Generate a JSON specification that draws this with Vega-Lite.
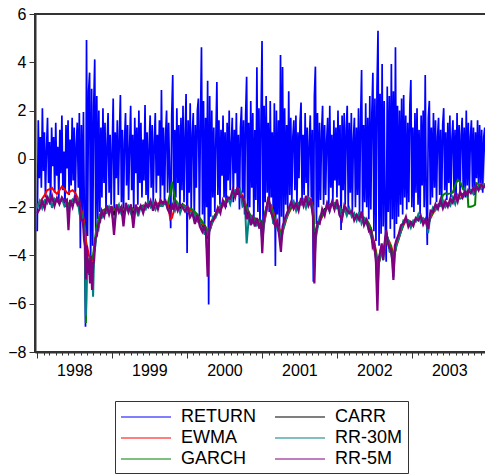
{
"$schema": "https://vega.github.io/schema/vega-lite/v6.json",
"width": 456, "height": 338,
"autosize": {"type": "none"},
"padding": {"left": 35, "top": 14, "right": 0, "bottom": 122},
"config": {
 "font": "Liberation Sans",
 "view": {"stroke": "#333", "strokeWidth": 2},
 "axis": {"grid": false, "domainColor": "#333", "domainWidth": 2, "tickColor": "#333", "labelColor": "#000", "labelFontSize": 16},
 "axisY": {"tickSize": 6, "labelPadding": 3},
 "legend": {"labelFontSize": 18, "labelColor": "#000"}
},
"datasets": {
"ret": [
{"t":0,"r":-3.0},{"t":5,"r":1.6},{"t":10,"r":-0.8},{"t":15,"r":0.9},{"t":20,"r":-1.2},{"t":25,"r":2.1},{"t":30,"r":-0.5},{"t":35,"r":1.1},{"t":40,"r":-1.6},{"t":45,"r":0.4},{"t":50,"r":1.7},{"t":55,"r":-1.0},{"t":60,"r":0.7},{"t":65,"r":-1.9},{"t":70,"r":1.3},{"t":75,"r":-0.3},{"t":80,"r":0.9},{"t":85,"r":-1.4},{"t":90,"r":1.5},{"t":95,"r":-0.7},
{"t":100,"r":0.5},{"t":105,"r":-1.7},{"t":110,"r":1.2},{"t":115,"r":-0.6},{"t":120,"r":1.8},{"t":125,"r":-1.3},{"t":130,"r":0.3},{"t":135,"r":-2.0},{"t":140,"r":1.4},{"t":145,"r":-0.4},{"t":150,"r":1.6},{"t":155,"r":-1.5},{"t":160,"r":0.8},{"t":165,"r":-1.1},{"t":170,"r":1.7},{"t":175,"r":-0.9},{"t":180,"r":1.3},{"t":185,"r":-1.8},{"t":190,"r":0.6},{"t":195,"r":1.5},
{"t":200,"r":-1.2},{"t":205,"r":1.9},{"t":210,"r":-3.7},{"t":215,"r":1.4},{"t":220,"r":-2.3},{"t":225,"r":1.94},{"t":230,"r":-2.8},{"t":235,"r":-6.95},{"t":240,"r":4.92},{"t":245,"r":-3.2},{"t":250,"r":2.8},{"t":255,"r":3.57},{"t":260,"r":-4.5},{"t":265,"r":2.9},{"t":270,"r":-3.6},{"t":275,"r":2.2},{"t":280,"r":4.12},{"t":285,"r":-3.0},{"t":290,"r":2.6},{"t":295,"r":-2.5},
{"t":300,"r":2.0},{"t":305,"r":-2.2},{"t":310,"r":1.3},{"t":315,"r":-1.6},{"t":320,"r":2.1},{"t":325,"r":-1.0},{"t":330,"r":1.5},{"t":335,"r":-2.1},{"t":340,"r":0.6},{"t":345,"r":1.9},{"t":350,"r":-1.4},{"t":355,"r":1.0},{"t":360,"r":-1.9},{"t":365,"r":0.4},{"t":370,"r":2.5},{"t":375,"r":-2.3},{"t":380,"r":1.1},{"t":385,"r":-0.8},{"t":390,"r":1.6},{"t":395,"r":-1.5},
{"t":400,"r":0.9},{"t":405,"r":2.64},{"t":410,"r":-1.8},{"t":415,"r":1.2},{"t":420,"r":-2.4},{"t":425,"r":0.7},{"t":430,"r":1.9},{"t":435,"r":-1.1},{"t":440,"r":1.4},{"t":445,"r":-1.7},{"t":450,"r":0.5},{"t":455,"r":2.2},{"t":460,"r":-1.3},{"t":465,"r":1.0},{"t":470,"r":-2.2},{"t":475,"r":1.7},{"t":480,"r":-0.6},{"t":485,"r":1.3},{"t":490,"r":-1.9},{"t":495,"r":2.0},
{"t":500,"r":-1.0},{"t":505,"r":1.5},{"t":510,"r":-1.6},{"t":515,"r":0.8},{"t":520,"r":-0.9},{"t":525,"r":2.23},{"t":530,"r":-1.5},{"t":535,"r":1.1},{"t":540,"r":-2.0},{"t":545,"r":0.6},{"t":550,"r":1.8},{"t":555,"r":-1.2},{"t":560,"r":1.4},{"t":565,"r":-1.8},{"t":570,"r":0.7},{"t":575,"r":1.9},{"t":580,"r":-1.4},{"t":585,"r":1.0},{"t":590,"r":-0.7},{"t":595,"r":1.6},
{"t":600,"r":-1.7},{"t":605,"r":2.85},{"t":610,"r":-1.1},{"t":615,"r":1.3},{"t":620,"r":-1.9},{"t":625,"r":0.9},{"t":630,"r":2.0},{"t":635,"r":-1.4},{"t":640,"r":1.5},{"t":645,"r":-0.8},{"t":650,"r":-2.87},{"t":655,"r":1.8},{"t":660,"r":3.47},{"t":665,"r":-2.1},{"t":670,"r":1.2},{"t":675,"r":-1.6},{"t":680,"r":2.1},{"t":685,"r":-1.0},{"t":690,"r":1.4},{"t":695,"r":-2.0},
{"t":700,"r":1.7},{"t":705,"r":-1.3},{"t":710,"r":2.2},{"t":715,"r":-1.8},{"t":720,"r":0.9},{"t":725,"r":2.69},{"t":730,"r":-3.9},{"t":735,"r":1.6},{"t":740,"r":-1.4},{"t":745,"r":2.3},{"t":750,"r":-2.2},{"t":755,"r":1.0},{"t":760,"r":1.9},{"t":765,"r":-2.5},{"t":770,"r":1.4},{"t":775,"r":-1.2},{"t":780,"r":2.0},{"t":785,"r":2.5},{"t":790,"r":-2.6},{"t":795,"r":1.5},
{"t":800,"r":4.62},{"t":805,"r":-2.3},{"t":810,"r":2.4},{"t":815,"r":-3.0},{"t":820,"r":1.7},{"t":825,"r":-2.0},{"t":830,"r":3.24},{"t":835,"r":-6.03},{"t":840,"r":2.6},{"t":845,"r":-2.4},{"t":850,"r":2.0},{"t":855,"r":-1.6},{"t":860,"r":1.3},{"t":865,"r":-2.2},{"t":870,"r":0.8},{"t":875,"r":3.18},{"t":880,"r":-1.5},{"t":885,"r":1.6},{"t":890,"r":-1.9},{"t":895,"r":1.2},
{"t":900,"r":-0.7},{"t":905,"r":1.8},{"t":910,"r":-1.6},{"t":915,"r":1.1},{"t":920,"r":-2.0},{"t":925,"r":1.5},{"t":930,"r":-0.9},{"t":935,"r":2.0},{"t":940,"r":-1.3},{"t":945,"r":0.6},{"t":950,"r":1.7},{"t":955,"r":-1.8},{"t":960,"r":1.2},{"t":965,"r":-0.6},{"t":970,"r":1.9},{"t":975,"r":-1.5},{"t":980,"r":1.0},{"t":985,"r":-2.1},{"t":990,"r":1.3},{"t":995,"r":2.16},
{"t":1000,"r":-1.4},{"t":1005,"r":1.6},{"t":1010,"r":-2.3},{"t":1015,"r":1.8},{"t":1020,"r":3.4},{"t":1025,"r":-2.5},{"t":1030,"r":1.5},{"t":1035,"r":-2.0},{"t":1040,"r":2.4},{"t":1045,"r":-1.2},{"t":1050,"r":1.9},{"t":1055,"r":-2.6},{"t":1060,"r":1.2},{"t":1065,"r":-1.7},{"t":1070,"r":3.79},{"t":1075,"r":-2.2},{"t":1080,"r":2.1},{"t":1085,"r":-2.9},{"t":1090,"r":1.7},{"t":1095,"r":4.88},
{"t":1100,"r":-3.0},{"t":1105,"r":2.2},{"t":1110,"r":-1.8},{"t":1115,"r":2.6},{"t":1120,"r":-1.4},{"t":1125,"r":1.5},{"t":1130,"r":-2.2},{"t":1135,"r":2.4},{"t":1140,"r":-1.6},{"t":1145,"r":1.1},{"t":1150,"r":-2.7},{"t":1155,"r":2.3},{"t":1160,"r":-4.44},{"t":1165,"r":2.0},{"t":1170,"r":-2.3},{"t":1175,"r":1.6},{"t":1180,"r":-3.2},{"t":1185,"r":4.3},{"t":1190,"r":-2.4},{"t":1195,"r":3.8},
{"t":1200,"r":-2.6},{"t":1205,"r":2.1},{"t":1210,"r":-1.9},{"t":1215,"r":1.4},{"t":1220,"r":-2.1},{"t":1225,"r":2.8},{"t":1230,"r":-1.5},{"t":1235,"r":1.7},{"t":1240,"r":-1.8},{"t":1245,"r":0.9},{"t":1250,"r":1.6},{"t":1255,"r":-1.3},{"t":1260,"r":1.8},{"t":1265,"r":-2.0},{"t":1270,"r":1.1},{"t":1275,"r":-0.8},{"t":1280,"r":1.5},{"t":1285,"r":2.33},{"t":1290,"r":-1.7},{"t":1295,"r":1.0},
{"t":1300,"r":-1.5},{"t":1305,"r":1.9},{"t":1310,"r":-1.0},{"t":1315,"r":1.3},{"t":1320,"r":-1.9},{"t":1325,"r":0.7},{"t":1330,"r":1.8},{"t":1335,"r":-1.6},{"t":1340,"r":1.2},{"t":1345,"r":-5.09},{"t":1350,"r":2.6},{"t":1355,"r":3.82},{"t":1360,"r":-2.7},{"t":1365,"r":1.9},{"t":1370,"r":-2.0},{"t":1375,"r":1.5},{"t":1380,"r":-1.7},{"t":1385,"r":1.1},{"t":1390,"r":2.2},{"t":1395,"r":-1.9},
{"t":1400,"r":1.4},{"t":1405,"r":-1.5},{"t":1410,"r":0.8},{"t":1415,"r":1.7},{"t":1420,"r":-2.0},{"t":1425,"r":2.2},{"t":1430,"r":-1.2},{"t":1435,"r":1.0},{"t":1440,"r":-1.8},{"t":1445,"r":1.6},{"t":1450,"r":-0.9},{"t":1455,"r":1.3},{"t":1460,"r":-1.6},{"t":1465,"r":2.0},{"t":1470,"r":-1.1},{"t":1475,"r":1.4},{"t":1480,"r":-2.95},{"t":1485,"r":1.8},{"t":1490,"r":-1.3},{"t":1495,"r":1.9},
{"t":1500,"r":-1.9},{"t":1505,"r":1.2},{"t":1510,"r":2.2},{"t":1515,"r":-2.1},{"t":1520,"r":1.5},{"t":1525,"r":-1.4},{"t":1530,"r":1.9},{"t":1535,"r":-2.2},{"t":1540,"r":0.8},{"t":1545,"r":1.7},{"t":1550,"r":-2.0},{"t":1555,"r":1.3},{"t":1560,"r":-1.5},{"t":1565,"r":2.1},{"t":1570,"r":-2.3},{"t":1575,"r":1.6},{"t":1580,"r":3.68},{"t":1585,"r":-2.4},{"t":1590,"r":1.4},{"t":1595,"r":-1.8},
{"t":1600,"r":2.3},{"t":1605,"r":-2.0},{"t":1610,"r":1.7},{"t":1615,"r":-2.5},{"t":1620,"r":2.6},{"t":1625,"r":-2.1},{"t":1630,"r":1.9},{"t":1635,"r":3.57},{"t":1640,"r":-3.0},{"t":1645,"r":2.5},{"t":1650,"r":-3.4},{"t":1655,"r":2.9},{"t":1660,"r":5.31},{"t":1665,"r":-3.6},{"t":1670,"r":2.7},{"t":1675,"r":-3.1},{"t":1680,"r":3.93},{"t":1685,"r":-2.8},{"t":1690,"r":2.4},{"t":1695,"r":-2.6},
{"t":1700,"r":-4.26},{"t":1705,"r":3.0},{"t":1710,"r":-2.2},{"t":1715,"r":2.6},{"t":1720,"r":-2.9},{"t":1725,"r":3.93},{"t":1730,"r":-2.5},{"t":1735,"r":2.8},{"t":1740,"r":-3.3},{"t":1745,"r":4.62},{"t":1750,"r":-2.7},{"t":1755,"r":2.2},{"t":1760,"r":-2.4},{"t":1765,"r":2.0},{"t":1770,"r":-1.9},{"t":1775,"r":2.5},{"t":1780,"r":-2.3},{"t":1785,"r":2.64},{"t":1790,"r":-1.6},{"t":1795,"r":1.8},
{"t":1800,"r":-2.1},{"t":1805,"r":1.5},{"t":1810,"r":-1.8},{"t":1815,"r":2.2},{"t":1820,"r":3.27},{"t":1825,"r":-2.0},{"t":1830,"r":1.3},{"t":1835,"r":-2.2},{"t":1840,"r":1.9},{"t":1845,"r":-1.4},{"t":1850,"r":2.1},{"t":1855,"r":-1.9},{"t":1860,"r":1.2},{"t":1865,"r":-2.3},{"t":1870,"r":1.8},{"t":1875,"r":-1.1},{"t":1880,"r":2.0},{"t":1885,"r":-2.0},{"t":1890,"r":3.47},{"t":1895,"r":-1.6},
{"t":1900,"r":-3.57},{"t":1905,"r":1.7},{"t":1910,"r":2.4},{"t":1915,"r":-1.9},{"t":1920,"r":1.3},{"t":1925,"r":-1.6},{"t":1930,"r":1.9},{"t":1935,"r":-1.2},{"t":1940,"r":1.6},{"t":1945,"r":-1.8},{"t":1950,"r":0.9},{"t":1955,"r":1.7},{"t":1960,"r":-1.5},{"t":1965,"r":1.2},{"t":1970,"r":-1.9},{"t":1975,"r":1.4},{"t":1980,"r":2.1},{"t":1985,"r":-1.3},{"t":1990,"r":1.1},{"t":1995,"r":-1.7},
{"t":2000,"r":1.5},{"t":2005,"r":-1.0},{"t":2010,"r":1.8},{"t":2015,"r":-1.6},{"t":2020,"r":0.8},{"t":2025,"r":1.6},{"t":2030,"r":-1.4},{"t":2035,"r":1.2},{"t":2040,"r":-1.7},{"t":2045,"r":1.9},{"t":2050,"r":-0.9},{"t":2055,"r":1.4},{"t":2060,"r":-1.5},{"t":2065,"r":1.0},{"t":2070,"r":1.7},{"t":2075,"r":-1.3},{"t":2080,"r":1.3},{"t":2085,"r":-1.6},{"t":2090,"r":2.0},{"t":2095,"r":-1.1},
{"t":2100,"r":1.5},{"t":2105,"r":-1.4},{"t":2110,"r":0.9},{"t":2115,"r":1.6},{"t":2120,"r":-1.2},{"t":2125,"r":1.3},{"t":2130,"r":-1.5},{"t":2135,"r":1.1},{"t":2140,"r":-0.8},{"t":2145,"r":1.6},{"t":2150,"r":-1.3},{"t":2155,"r":1.4},{"t":2160,"r":-1.0},{"t":2165,"r":1.2},{"t":2170,"r":-1.4},{"t":2175,"r":0.9},{"t":2180,"r":1.3},{"t":2185,"r":-0.9},{"t":2190,"r":1.2}
],
"vol": [
{"t":0,"c":-1.85,"e":-1.9,"g":-1.95,"m":-2.05,"p":-2.25},
{"t":12,"c":-1.93,"e":-1.8,"g":-1.85,"m":-1.75,"p":-2.07},
{"t":24,"c":-1.78,"e":-1.65,"g":-1.8,"m":-2.05,"p":-1.75},
{"t":36,"c":-1.79,"e":-1.5,"g":-1.75,"m":-1.73,"p":-2.05},
{"t":48,"c":-1.68,"e":-1.3,"g":-1.7,"m":-1.85,"p":-1.57},
{"t":60,"c":-1.72,"e":-1.25,"g":-1.7,"m":-1.55,"p":-1.8},
{"t":72,"c":-1.7,"e":-1.2,"g":-1.72,"m":-2.03,"p":-1.53},
{"t":84,"c":-1.78,"e":-1.35,"g":-1.7,"m":-1.65,"p":-1.95},
{"t":96,"c":-1.68,"e":-1.45,"g":-1.68,"m":-1.75,"p":-1.62},
{"t":108,"c":-1.74,"e":-1.3,"g":-1.7,"m":-1.85,"p":-1.88},
{"t":120,"c":-1.73,"e":-1.15,"g":-1.72,"m":-1.65,"p":-1.6},
{"t":132,"c":-1.72,"e":-1.25,"g":-1.7,"m":-1.95,"p":-1.75},
{"t":144,"c":-1.75,"e":-1.4,"g":-1.75,"m":-1.78,"p":-1.68},
{"t":152,"c":-2.1,"e":-1.45,"g":-1.9,"m":-2.4,"p":-2.95},
{"t":160,"c":-1.8,"e":-1.35,"g":-1.8,"m":-1.85,"p":-1.7},
{"t":172,"c":-1.72,"e":-1.3,"g":-1.75,"m":-1.68,"p":-2.0},
{"t":184,"c":-1.7,"e":-1.4,"g":-1.7,"m":-1.8,"p":-1.52},
{"t":196,"c":-1.85,"e":-1.6,"g":-1.8,"m":-1.65,"p":-1.9},
{"t":206,"c":-1.98,"e":-1.85,"g":-1.95,"m":-2.28,"p":-1.78},
{"t":214,"c":-2.25,"e":-2.1,"g":-2.2,"m":-2.25,"p":-2.55},
{"t":222,"c":-2.55,"e":-2.3,"g":-2.5,"m":-2.7,"p":-2.52},
{"t":228,"c":-2.9,"e":-2.6,"g":-2.8,"m":-2.85,"p":-3.36},
{"t":233,"c":-3.3,"e":-2.9,"g":-3.2,"m":-3.5,"p":-3.6},
{"t":237,"c":-4.5,"e":-3.4,"g":-6.8,"m":-6.5,"p":-5.0},
{"t":242,"c":-4.2,"e":-3.6,"g":-4.6,"m":-4.0,"p":-3.6},
{"t":247,"c":-4.3,"e":-3.8,"g":-4.2,"m":-4.5,"p":-4.73},
{"t":252,"c":-4.5,"e":-4.0,"g":-4.3,"m":-4.8,"p":-4.2},
{"t":257,"c":-4.1,"e":-4.1,"g":-4.0,"m":-4.4,"p":-5.16},
{"t":262,"c":-4.6,"e":-4.2,"g":-4.2,"m":-5.0,"p":-4.0},
{"t":267,"c":-4.3,"e":-4.2,"g":-4.1,"m":-4.5,"p":-5.43},
{"t":272,"c":-4.6,"e":-4.1,"g":-4.0,"m":-5.71,"p":-4.4},
{"t":277,"c":-3.8,"e":-3.8,"g":-3.6,"m":-3.9,"p":-4.2},
{"t":283,"c":-3.4,"e":-3.4,"g":-3.2,"m":-3.6,"p":-3.3},
{"t":290,"c":-3.0,"e":-3.0,"g":-2.8,"m":-2.9,"p":-3.2},
{"t":298,"c":-2.8,"e":-2.6,"g":-2.5,"m":-2.95,"p":-2.7},
{"t":306,"c":-2.5,"e":-2.45,"g":-2.3,"m":-2.45,"p":-2.6},
{"t":314,"c":-2.3,"e":-2.3,"g":-2.15,"m":-2.45,"p":-2.15},
{"t":326,"c":-2.22,"e":-2.2,"g":-2.1,"m":-2.2,"p":-2.4},
{"t":338,"c":-2.08,"e":-2.1,"g":-2.05,"m":-2.25,"p":-1.92},
{"t":350,"c":-2.02,"e":-2.05,"g":-2.0,"m":-1.98,"p":-2.3},
{"t":362,"c":-2.1,"e":-2.0,"g":-2.02,"m":-2.2,"p":-1.95},
{"t":374,"c":-2.3,"e":-2.1,"g":-2.1,"m":-2.7,"p":-3.15},
{"t":386,"c":-2.05,"e":-2.1,"g":-2.05,"m":-2.15,"p":-1.88},
{"t":398,"c":-1.98,"e":-2.0,"g":-2.0,"m":-1.9,"p":-2.22},
{"t":410,"c":-2.08,"e":-2.0,"g":-2.02,"m":-2.3,"p":-2.0},
{"t":420,"c":-2.25,"e":-2.1,"g":-2.1,"m":-2.4,"p":-2.8},
{"t":432,"c":-2.02,"e":-2.05,"g":-2.05,"m":-2.1,"p":-1.82},
{"t":444,"c":-2.12,"e":-2.05,"g":-2.08,"m":-1.95,"p":-2.2},
{"t":456,"c":-1.98,"e":-2.0,"g":-2.02,"m":-2.25,"p":-1.88},
{"t":468,"c":-2.3,"e":-2.1,"g":-2.12,"m":-2.5,"p":-2.86},
{"t":480,"c":-2.05,"e":-2.05,"g":-2.05,"m":-2.0,"p":-1.9},
{"t":492,"c":-2.1,"e":-2.05,"g":-2.08,"m":-2.38,"p":-2.2},
{"t":504,"c":-2.0,"e":-2.0,"g":-2.02,"m":-1.95,"p":-1.95},
{"t":516,"c":-1.93,"e":-1.95,"g":-1.98,"m":-2.05,"p":-2.25},
{"t":528,"c":-2.02,"e":-1.95,"g":-1.98,"m":-2.1,"p":-1.85},
{"t":540,"c":-1.92,"e":-1.9,"g":-1.95,"m":-1.75,"p":-2.0},
{"t":552,"c":-1.97,"e":-1.9,"g":-1.93,"m":-2.0,"p":-1.73},
{"t":564,"c":-1.88,"e":-1.88,"g":-1.92,"m":-1.8,"p":-2.15},
{"t":576,"c":-1.83,"e":-1.85,"g":-1.9,"m":-2.1,"p":-1.77},
{"t":588,"c":-1.92,"e":-1.85,"g":-1.9,"m":-1.88,"p":-2.08},
{"t":600,"c":-1.82,"e":-1.82,"g":-1.88,"m":-1.95,"p":-1.7},
{"t":612,"c":-1.78,"e":-1.8,"g":-1.85,"m":-1.95,"p":-1.85},
{"t":624,"c":-1.85,"e":-1.8,"g":-1.85,"m":-1.75,"p":-1.73},
{"t":636,"c":-1.84,"e":-1.82,"g":-1.85,"m":-2.08,"p":-2.1},
{"t":648,"c":-2.1,"e":-2.5,"g":-1.4,"m":-2.2,"p":-2.3},
{"t":656,"c":-1.95,"e":-2.45,"g":-0.95,"m":-1.95,"p":-1.85},
{"t":664,"c":-1.9,"e":-2.2,"g":-1.3,"m":-1.8,"p":-2.12},
{"t":672,"c":-1.87,"e":-2.0,"g":-1.7,"m":-2.13,"p":-1.83},
{"t":684,"c":-1.92,"e":-1.95,"g":-1.85,"m":-1.85,"p":-2.15},
{"t":696,"c":-2.04,"e":-1.95,"g":-1.95,"m":-2.25,"p":-1.88},
{"t":708,"c":-1.88,"e":-1.9,"g":-1.9,"m":-1.95,"p":-2.0},
{"t":720,"c":-2.0,"e":-1.95,"g":-1.95,"m":-1.98,"p":-2.18},
{"t":732,"c":-2.15,"e":-2.0,"g":-2.1,"m":-2.2,"p":-1.98},
{"t":744,"c":-2.18,"e":-2.1,"g":-2.05,"m":-2.2,"p":-2.42},
{"t":756,"c":-2.28,"e":-2.2,"g":-2.1,"m":-2.2,"p":-2.25},
{"t":768,"c":-2.35,"e":-2.3,"g":-2.2,"m":-2.35,"p":-2.7},
{"t":780,"c":-2.45,"e":-2.4,"g":-2.3,"m":-2.6,"p":-2.32},
{"t":792,"c":-2.65,"e":-2.5,"g":-2.45,"m":-2.65,"p":-2.8},
{"t":804,"c":-2.8,"e":-2.65,"g":-2.6,"m":-2.9,"p":-3.02},
{"t":814,"c":-2.88,"e":-2.8,"g":-2.75,"m":-3.1,"p":-2.75},
{"t":822,"c":-2.95,"e":-2.85,"g":-2.85,"m":-3.05,"p":-3.1},
{"t":830,"c":-3.3,"e":-3.0,"g":-3.1,"m":-4.2,"p":-4.88},
{"t":838,"c":-2.95,"e":-3.0,"g":-2.9,"m":-3.0,"p":-2.95},
{"t":846,"c":-2.7,"e":-2.8,"g":-2.7,"m":-2.85,"p":-2.6},
{"t":856,"c":-2.48,"e":-2.6,"g":-2.5,"m":-2.4,"p":-2.55},
{"t":868,"c":-2.3,"e":-2.4,"g":-2.3,"m":-2.45,"p":-2.35},
{"t":880,"c":-2.1,"e":-2.2,"g":-2.1,"m":-2.2,"p":-2.02},
{"t":892,"c":-2.02,"e":-2.1,"g":-1.95,"m":-1.98,"p":-2.25},
{"t":904,"c":-1.88,"e":-1.95,"g":-1.85,"m":-1.8,"p":-1.72},
{"t":916,"c":-1.82,"e":-1.85,"g":-1.75,"m":-1.85,"p":-1.98},
{"t":928,"c":-1.72,"e":-1.75,"g":-1.7,"m":-1.6,"p":-1.6},
{"t":940,"c":-1.6,"e":-1.62,"g":-1.65,"m":-1.88,"p":-1.65},
{"t":952,"c":-1.52,"e":-1.5,"g":-1.55,"m":-1.45,"p":-1.28},
{"t":964,"c":-1.35,"e":-1.35,"g":-1.45,"m":-1.3,"p":-1.6},
{"t":976,"c":-1.25,"e":-1.22,"g":-1.35,"m":-1.35,"p":-1.17},
{"t":988,"c":-1.42,"e":-1.3,"g":-1.4,"m":-1.25,"p":-1.58},
{"t":1000,"c":-1.68,"e":-1.55,"g":-1.6,"m":-1.98,"p":-1.55},
{"t":1012,"c":-1.97,"e":-1.8,"g":-1.85,"m":-1.9,"p":-2.0},
{"t":1020,"c":-2.2,"e":-2.0,"g":-2.05,"m":-3.5,"p":-2.5},
{"t":1030,"c":-2.4,"e":-2.25,"g":-2.2,"m":-2.5,"p":-2.28},
{"t":1040,"c":-2.48,"e":-2.4,"g":-2.35,"m":-2.4,"p":-2.75},
{"t":1050,"c":-2.52,"e":-2.45,"g":-2.4,"m":-2.65,"p":-2.45},
{"t":1060,"c":-2.6,"e":-2.5,"g":-2.45,"m":-2.55,"p":-2.8},
{"t":1070,"c":-2.62,"e":-2.55,"g":-2.5,"m":-2.75,"p":-2.45},
{"t":1080,"c":-2.72,"e":-2.6,"g":-2.55,"m":-2.65,"p":-2.8},
{"t":1090,"c":-2.8,"e":-2.7,"g":-2.6,"m":-2.9,"p":-2.65},
{"t":1096,"c":-3.1,"e":-2.85,"g":-2.8,"m":-3.4,"p":-3.91},
{"t":1104,"c":-2.6,"e":-2.7,"g":-2.5,"m":-2.8,"p":-2.5},
{"t":1114,"c":-2.1,"e":-2.3,"g":-2.1,"m":-2.2,"p":-2.2},
{"t":1126,"c":-1.7,"e":-1.8,"g":-1.75,"m":-1.75,"p":-1.57},
{"t":1138,"c":-2.08,"e":-1.9,"g":-1.95,"m":-2.1,"p":-2.2},
{"t":1150,"c":-2.5,"e":-2.2,"g":-2.3,"m":-2.65,"p":-2.45},
{"t":1160,"c":-2.78,"e":-2.5,"g":-2.6,"m":-2.78,"p":-2.81},
{"t":1170,"c":-2.82,"e":-2.7,"g":-2.75,"m":-2.9,"p":-2.6},
{"t":1180,"c":-3.1,"e":-2.9,"g":-2.95,"m":-3.05,"p":-3.3},
{"t":1187,"c":-3.35,"e":-3.1,"g":-3.1,"m":-3.5,"p":-3.85},
{"t":1195,"c":-2.95,"e":-3.0,"g":-2.95,"m":-3.1,"p":-2.8},
{"t":1205,"c":-2.62,"e":-2.75,"g":-2.7,"m":-2.6,"p":-2.5},
{"t":1215,"c":-2.3,"e":-2.45,"g":-2.4,"m":-2.45,"p":-2.3},
{"t":1225,"c":-2.12,"e":-2.25,"g":-2.2,"m":-2.08,"p":-2.05},
{"t":1237,"c":-1.92,"e":-2.05,"g":-2.0,"m":-1.9,"p":-1.78},
{"t":1249,"c":-1.88,"e":-1.95,"g":-1.92,"m":-1.75,"p":-2.07},
{"t":1261,"c":-1.88,"e":-1.9,"g":-1.9,"m":-2.15,"p":-1.85},
{"t":1273,"c":-1.89,"e":-1.88,"g":-1.88,"m":-1.83,"p":-2.15},
{"t":1285,"c":-1.73,"e":-1.8,"g":-1.85,"m":-1.9,"p":-1.62},
{"t":1297,"c":-1.87,"e":-1.8,"g":-1.85,"m":-1.7,"p":-1.95},
{"t":1309,"c":-1.73,"e":-1.65,"g":-1.8,"m":-2.03,"p":-1.53},
{"t":1321,"c":-1.72,"e":-1.6,"g":-1.75,"m":-1.65,"p":-1.95},
{"t":1333,"c":-1.78,"e":-1.7,"g":-1.78,"m":-1.85,"p":-1.72},
{"t":1343,"c":-2.2,"e":-2.0,"g":-2.0,"m":-2.3,"p":-2.4},
{"t":1350,"c":-3.3,"e":-2.9,"g":-3.0,"m":-4.3,"p":-5.16},
{"t":1357,"c":-3.1,"e":-3.0,"g":-3.0,"m":-3.3,"p":-3.1},
{"t":1366,"c":-2.72,"e":-2.8,"g":-2.75,"m":-2.85,"p":-2.62},
{"t":1376,"c":-2.5,"e":-2.6,"g":-2.55,"m":-2.4,"p":-2.68},
{"t":1388,"c":-2.28,"e":-2.4,"g":-2.35,"m":-2.2,"p":-2.08},
{"t":1400,"c":-2.08,"e":-2.2,"g":-2.15,"m":-2.25,"p":-2.35},
{"t":1412,"c":-2.02,"e":-2.05,"g":-2.05,"m":-1.85,"p":-1.85},
{"t":1424,"c":-1.95,"e":-1.95,"g":-1.95,"m":-2.18,"p":-2.15},
{"t":1436,"c":-1.83,"e":-1.88,"g":-1.88,"m":-1.8,"p":-1.78},
{"t":1448,"c":-1.84,"e":-1.82,"g":-1.85,"m":-1.85,"p":-2.1},
{"t":1460,"c":-1.85,"e":-1.85,"g":-1.88,"m":-2.05,"p":-1.68},
{"t":1472,"c":-2.1,"e":-2.0,"g":-2.0,"m":-2.0,"p":-2.32},
{"t":1484,"c":-2.28,"e":-2.15,"g":-2.15,"m":-2.45,"p":-2.53},
{"t":1496,"c":-2.08,"e":-2.1,"g":-2.1,"m":-2.05,"p":-1.92},
{"t":1508,"c":-2.18,"e":-2.15,"g":-2.15,"m":-2.35,"p":-2.1},
{"t":1520,"c":-2.22,"e":-2.2,"g":-2.18,"m":-2.05,"p":-2.25},
{"t":1532,"c":-2.25,"e":-2.25,"g":-2.25,"m":-2.4,"p":-2.15},
{"t":1544,"c":-2.32,"e":-2.3,"g":-2.3,"m":-2.25,"p":-2.55},
{"t":1556,"c":-2.38,"e":-2.35,"g":-2.35,"m":-2.55,"p":-2.32},
{"t":1568,"c":-2.35,"e":-2.35,"g":-2.35,"m":-2.2,"p":-2.53},
{"t":1580,"c":-2.42,"e":-2.38,"g":-2.38,"m":-2.68,"p":-2.18},
{"t":1592,"c":-2.5,"e":-2.45,"g":-2.45,"m":-2.45,"p":-2.75},
{"t":1604,"c":-2.58,"e":-2.55,"g":-2.5,"m":-2.65,"p":-2.52},
{"t":1616,"c":-2.8,"e":-2.7,"g":-2.7,"m":-2.95,"p":-3.0},
{"t":1626,"c":-3.0,"e":-2.9,"g":-2.9,"m":-3.2,"p":-2.95},
{"t":1634,"c":-3.45,"e":-3.2,"g":-3.3,"m":-3.45,"p":-3.64},
{"t":1642,"c":-3.7,"e":-3.5,"g":-3.6,"m":-3.75,"p":-3.5},
{"t":1650,"c":-4.0,"e":-3.8,"g":-3.9,"m":-4.1,"p":-4.3},
{"t":1657,"c":-4.7,"e":-4.2,"g":-4.4,"m":-5.6,"p":-6.29},
{"t":1664,"c":-4.35,"e":-4.3,"g":-4.3,"m":-4.4,"p":-4.1},
{"t":1671,"c":-3.95,"e":-4.1,"g":-4.0,"m":-3.8,"p":-3.85},
{"t":1678,"c":-3.7,"e":-3.85,"g":-3.8,"m":-3.8,"p":-3.5},
{"t":1685,"c":-4.0,"e":-3.8,"g":-3.9,"m":-4.2,"p":-4.19},
{"t":1692,"c":-3.6,"e":-3.7,"g":-3.7,"m":-3.7,"p":-3.5},
{"t":1700,"c":-3.05,"e":-3.4,"g":-3.3,"m":-3.1,"p":-2.95},
{"t":1708,"c":-3.4,"e":-3.3,"g":-3.35,"m":-3.3,"p":-3.5},
{"t":1716,"c":-3.6,"e":-3.45,"g":-3.5,"m":-3.85,"p":-3.7},
{"t":1724,"c":-3.8,"e":-3.6,"g":-3.7,"m":-3.9,"p":-3.75},
{"t":1730,"c":-4.1,"e":-3.8,"g":-3.9,"m":-4.2,"p":-4.3},
{"t":1735,"c":-4.4,"e":-4.0,"g":-4.1,"m":-4.9,"p":-5.02},
{"t":1742,"c":-3.75,"e":-3.9,"g":-3.9,"m":-3.9,"p":-3.6},
{"t":1750,"c":-3.42,"e":-3.6,"g":-3.55,"m":-3.5,"p":-3.36},
{"t":1760,"c":-3.2,"e":-3.35,"g":-3.3,"m":-3.3,"p":-3.15},
{"t":1772,"c":-2.9,"e":-3.0,"g":-3.0,"m":-3.0,"p":-2.75},
{"t":1784,"c":-2.6,"e":-2.75,"g":-2.7,"m":-2.55,"p":-2.68},
{"t":1796,"c":-2.5,"e":-2.55,"g":-2.55,"m":-2.6,"p":-2.4},
{"t":1808,"c":-2.62,"e":-2.55,"g":-2.6,"m":-2.55,"p":-2.82},
{"t":1820,"c":-2.7,"e":-2.62,"g":-2.65,"m":-2.85,"p":-2.62},
{"t":1832,"c":-2.6,"e":-2.6,"g":-2.6,"m":-2.55,"p":-2.78},
{"t":1844,"c":-2.5,"e":-2.52,"g":-2.55,"m":-2.6,"p":-2.45},
{"t":1856,"c":-2.4,"e":-2.45,"g":-2.45,"m":-2.3,"p":-2.55},
{"t":1868,"c":-2.5,"e":-2.45,"g":-2.5,"m":-2.62,"p":-2.35},
{"t":1880,"c":-2.5,"e":-2.5,"g":-2.5,"m":-2.45,"p":-2.72},
{"t":1892,"c":-2.6,"e":-2.55,"g":-2.55,"m":-2.55,"p":-2.5},
{"t":1904,"c":-2.8,"e":-2.7,"g":-2.7,"m":-3.08,"p":-2.9},
{"t":1916,"c":-2.3,"e":-2.45,"g":-2.4,"m":-2.3,"p":-2.15},
{"t":1928,"c":-2.12,"e":-2.25,"g":-2.2,"m":-2.0,"p":-2.2},
{"t":1940,"c":-2.02,"e":-2.1,"g":-2.05,"m":-2.12,"p":-1.88},
{"t":1952,"c":-1.9,"e":-1.98,"g":-1.95,"m":-1.9,"p":-2.08},
{"t":1964,"c":-1.85,"e":-1.9,"g":-1.9,"m":-1.95,"p":-1.7},
{"t":1976,"c":-1.82,"e":-1.85,"g":-1.5,"m":-1.72,"p":-2.05},
{"t":1988,"c":-1.85,"e":-1.85,"g":-1.43,"m":-2.0,"p":-1.75},
{"t":2000,"c":-1.88,"e":-1.85,"g":-1.45,"m":-1.85,"p":-1.98},
{"t":2012,"c":-1.8,"e":-1.8,"g":-1.43,"m":-1.95,"p":-1.65},
{"t":2024,"c":-1.7,"e":-1.72,"g":-1.4,"m":-1.6,"p":-1.82},
{"t":2036,"c":-1.62,"e":-1.65,"g":-1.1,"m":-1.88,"p":-1.45},
{"t":2048,"c":-1.57,"e":-1.58,"g":-0.88,"m":-1.5,"p":-1.77},
{"t":2060,"c":-1.48,"e":-1.52,"g":-0.95,"m":-1.65,"p":-1.35},
{"t":2072,"c":-1.47,"e":-1.47,"g":-1.2,"m":-1.6,"p":-1.6},
{"t":2084,"c":-1.38,"e":-1.42,"g":-1.35,"m":-1.25,"p":-1.35},
{"t":2096,"c":-1.37,"e":-1.38,"g":-1.4,"m":-1.6,"p":-1.5},
{"t":2100,"c":-1.32,"e":-1.35,"g":-1.98,"m":-1.35,"p":-1.3},
{"t":2112,"c":-1.3,"e":-1.32,"g":-1.98,"m":-1.28,"p":-1.42},
{"t":2124,"c":-1.28,"e":-1.3,"g":-1.95,"m":-1.45,"p":-1.2},
{"t":2133,"c":-1.22,"e":-1.25,"g":-1.9,"m":-1.2,"p":-1.35},
{"t":2138,"c":-1.2,"e":-1.22,"g":-1.0,"m":-1.3,"p":-1.1},
{"t":2150,"c":-1.18,"e":-1.2,"g":-1.05,"m":-1.15,"p":-1.3},
{"t":2162,"c":-1.15,"e":-1.15,"g":-1.1,"m":-1.25,"p":-1.05},
{"t":2174,"c":-1.1,"e":-1.12,"g":-1.05,"m":-1.05,"p":-1.2},
{"t":2190,"c":-1.05,"e":-1.08,"g":-1.05,"m":-1.1,"p":-1.0}
]
},
"encoding": {
 "x": {"field": "t", "type": "quantitative",
  "scale": {"domain": [-11, 2210.4], "nice": false, "zero": false},
  "axis": {"title": null,
   "values": [0,31,59,90,120,151,181,212,243,273,304,334,365,396,424,455,485,516,546,577,608,638,669,699,730,761,790,821,851,882,912,943,974,1004,1035,1065,1096,1127,1155,1186,1216,1247,1277,1308,1339,1369,1400,1430,1461,1492,1520,1551,1581,1612,1642,1673,1704,1734,1765,1795,1826,1857,1885,1916,1946,1977,2007,2038,2069,2099,2130,2160,2191],
   "tickSize": {"condition": {"test": "datum.value % 365.25 < 2 || datum.value % 365.25 > 363", "value": 6}, "value": 3},
   "labelExpr": "datum.value % 365.25 > 175 && datum.value % 365.25 < 190 ? '' + (1998 + floor(datum.value / 365.25)) : ''",
   "labelPadding": 7, "labelOverlap": false, "labelFlush": false, "labelBound": false}
 }
},
"layer": [
 {"data": {"name": "ret"}, "mark": {"type": "line", "strokeWidth": 1.7, "clip": true},
  "encoding": {"y": {"field": "r", "type": "quantitative", "scale": {"domain": [-8, 6], "nice": false, "zero": false}, "axis": {"title": null, "values": [-8,-6,-4,-2,0,2,4,6]}},
   "color": {"datum": "RETURN", "type": "nominal",
    "scale": {"domain": ["RETURN","CARR","EWMA","RR-30M","GARCH","RR-5M"], "range": ["#0000FF","#000000","#FF0000","#008080","#008000","#800080"]},
    "legend": {"title": null, "orient": "none", "legendX": 80, "legendY": 387, "columns": 2, "direction": "horizontal",
     "strokeColor": "#333", "padding": 5, "rowPadding": 1, "columnPadding": 16,
     "symbolType": "M-2.5,0H2.5", "symbolSize": 400, "symbolOffset": 15, "symbolStrokeWidth": 1.2, "labelOffset": 24, "labelLimit": 200}}}},
 {"data": {"name": "vol"}, "mark": {"type": "line", "strokeWidth": 2, "clip": true},
  "encoding": {"y": {"field": "c", "type": "quantitative", "axis": {"title": null}}, "color": {"datum": "CARR", "type": "nominal"}}},
 {"data": {"name": "vol"}, "mark": {"type": "line", "strokeWidth": 2, "clip": true},
  "encoding": {"y": {"field": "e", "type": "quantitative", "axis": {"title": null}}, "color": {"datum": "EWMA", "type": "nominal"}}},
 {"data": {"name": "vol"}, "mark": {"type": "line", "strokeWidth": 2, "clip": true},
  "encoding": {"y": {"field": "g", "type": "quantitative", "axis": {"title": null}}, "color": {"datum": "GARCH", "type": "nominal"}}},
 {"data": {"name": "vol"}, "mark": {"type": "line", "strokeWidth": 2, "clip": true},
  "encoding": {"y": {"field": "m", "type": "quantitative", "axis": {"title": null}}, "color": {"datum": "RR-30M", "type": "nominal"}}},
 {"data": {"name": "vol"}, "mark": {"type": "line", "strokeWidth": 2.2, "clip": true},
  "encoding": {"y": {"field": "p", "type": "quantitative", "axis": {"title": null}}, "color": {"datum": "RR-5M", "type": "nominal"}}}
]
}
